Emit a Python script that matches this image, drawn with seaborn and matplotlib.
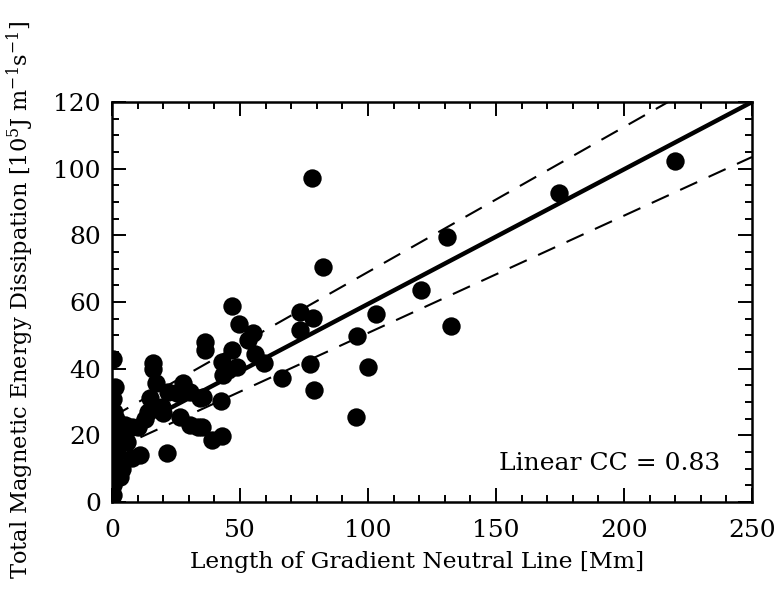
import numpy as np
import pandas as pd
import matplotlib
matplotlib.use("Agg")
import matplotlib.pyplot as plt
from matplotlib.ticker import MultipleLocator
import seaborn as sns

# ---- data ----
gnl_length = [219.9, 174.6, 130.7, 132.3, 120.6, 103.1, 100.1, 95.8, 95.2, 82.5,
              78.2, 78.6, 73.4, 73.4, 77.3, 78.9, 66.5, 59.4, 55.9, 55.2,
              53.3, 49.7, 47.0, 46.7, 48.7, 45.4, 42.8, 43.5, 42.4, 38.9,
              42.8, 36.3, 36.3, 35.7, 35.0, 34.4, 33.7, 30.5, 30.5, 27.9,
              26.6, 25.3, 22.0, 21.4, 20.0, 19.4, 17.2, 16.1, 15.9, 14.8,
              14.2, 12.9, 10.3, 10.9, 7.7, 7.7, 5.1, 5.7, 3.1, 0.3,
              1.2, 0.5, 0.8, 1.5, 2.5, 0.5, 2.0, 1.0, 0.5, 0.3,
              0.2, 4.0]
energy_diss = [102.3, 92.6, 79.6, 52.9, 63.6, 56.4, 40.6, 49.8, 25.6, 70.4,
               97.1, 55.1, 57.1, 51.6, 41.4, 33.6, 37.1, 41.6, 44.4, 50.8,
               48.6, 53.3, 58.8, 45.6, 40.6, 39.6, 42.1, 38.1, 30.4, 18.6,
               19.8, 48.1, 45.6, 31.6, 22.6, 31.1, 22.6, 33.1, 23.1, 35.6,
               25.4, 32.6, 33.1, 14.6, 26.8, 28.6, 35.6, 39.8, 41.6, 31.1,
               27.1, 24.8, 22.6, 14.1, 22.6, 13.1, 23.1, 18.1, 7.6, 43.0,
               34.6, 31.0, 27.0, 25.0, 20.0, 18.0, 15.0, 12.0, 9.0, 5.0,
               2.0, 10.0]

# fitted lines (intercept, slope)
fit_names = ["fit", "upper", "lower"]
fit_intercepts = [19.0, 25.5, 15.5]
fit_slopes = [0.404, 0.435, 0.352]

x_ticks = [0, 50, 100, 150, 200, 250]
y_ticks = [0, 20, 40, 60, 80, 100, 120]
cc_text = "Linear CC = 0.83"

# ---- styling ----
sns.set_theme(style="ticks")
plt.rcParams["font.family"] = ["DejaVu Serif"]
plt.rcParams["mathtext.fontset"] = "dejavuserif"
plt.rcParams["text.color"] = "black"
plt.rcParams["axes.labelcolor"] = "black"

FS_TICK = 18
FS_LAB = 16.8

fig = plt.figure(figsize=(7.77, 6.03), dpi=100)
ax = fig.add_axes([112/777, 101/603, 640/777, 400/603])

df = pd.DataFrame({"x": gnl_length, "y": energy_diss})
sns.scatterplot(data=df, x="x", y="y", ax=ax, s=175, color="black",
                edgecolor="black", linewidth=0, zorder=3, legend=False)

xx = np.array([0.0, 250.0])
line_rows = []
for name, a, b in zip(fit_names, fit_intercepts, fit_slopes):
    for xv in xx:
        line_rows.append({"x": xv, "y": a + b * xv, "name": name})
ldf = pd.DataFrame(line_rows)
sns.lineplot(data=ldf[ldf.name == "fit"], x="x", y="y", ax=ax, color="black",
             linewidth=3.2, legend=False, zorder=2)
for nm in ["upper", "lower"]:
    sns.lineplot(data=ldf[ldf.name == nm], x="x", y="y", ax=ax, color="black",
                 linewidth=1.5, legend=False, zorder=2, dashes=False)
    ax.lines[-1].set_dashes([9, 6])

ax.set_xlim(0, 250)
ax.set_ylim(0, 120)
ax.set_xticks(x_ticks)
ax.set_yticks(y_ticks)
ax.xaxis.set_minor_locator(MultipleLocator(10))
ax.yaxis.set_minor_locator(MultipleLocator(5))
ax.tick_params(which="both", direction="in", top=True, right=True,
               labelsize=FS_TICK, colors="black", width=1.4)
ax.tick_params(which="major", length=10)
ax.tick_params(axis="y", which="major", pad=8)
ax.tick_params(axis="x", which="major", pad=12)
ax.tick_params(which="minor", length=5)
for sp in ax.spines.values():
    sp.set_linewidth(1.8)
    sp.set_color("black")

ax.set_xlabel("Length of Gradient Neutral Line [Mm]", fontsize=FS_LAB)
ax.set_ylabel(r"Total Magnetic Energy Dissipation [10$^5$J m$^{-1}$s$^{-1}$]",
              fontsize=16.2)
ax.xaxis.set_label_coords(0.477, -0.122)
ax.yaxis.set_label_coords(-0.118, 0.505)

ax.text(237.5, 11.5, cc_text, ha="right", va="center", fontsize=FS_TICK)

fig.savefig("out.png", dpi=100)
